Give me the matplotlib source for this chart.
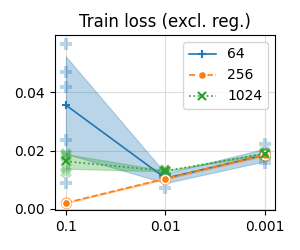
import matplotlib
matplotlib.use("Agg")
import matplotlib.pyplot as plt
import numpy as np

# learning-rate categories (x axis) and per-seed train losses for each width
lr_labels = ["0.1", "0.01", "0.001"]
widths = ["64", "256", "1024"]

loss_64 = [
    [0.0566, 0.0470, 0.0417, 0.0238, 0.0090],
    [0.0072, 0.0115, 0.0120, 0.0110, 0.0108],
    [0.0224, 0.0159, 0.0170, 0.0190, 0.0182],
]
loss_256 = [
    [0.0019, 0.0021, 0.0022, 0.0020, 0.0021],
    [0.0100, 0.0108, 0.0104, 0.0106, 0.0102],
    [0.0180, 0.0188, 0.0186, 0.0183, 0.0190],
]
loss_1024 = [
    [0.0188, 0.0184, 0.0178, 0.0140, 0.0125],
    [0.0128, 0.0131, 0.0130, 0.0129, 0.0132],
    [0.0188, 0.0192, 0.0190, 0.0186, 0.0194],
]

series = [loss_64, loss_256, loss_1024]
colors = ["#1f77b4", "#ff7f0e", "#2ca02c"]
linestyles = ["-", "--", ":"]
mean_markers = ["+", "o", "x"]
seed_markers = ["P", "o", "X"]

fig = plt.figure(figsize=(3, 2.5), dpi=100)
ax = fig.add_axes([0.183, 0.16, 0.734, 0.70])

x = np.arange(len(lr_labels))
for vals, c, ls, mm, sm, lab in zip(series, colors, linestyles, mean_markers, seed_markers, widths):
    arr = np.array(vals)
    mean = arr.mean(axis=1)
    sem = arr.std(axis=1, ddof=1) / np.sqrt(arr.shape[1])
    # individual seeds
    for i in range(arr.shape[0]):
        ax.plot(np.full(arr.shape[1], x[i]), arr[i], linestyle="none", marker=sm,
                markersize=8, color=c, alpha=0.3, markeredgewidth=0, zorder=2)
    ax.fill_between(x, mean - 1.96 * sem, mean + 1.96 * sem, color=c, alpha=0.3,
                    linewidth=0.8, zorder=1)
    ax.plot(x, mean, color=c, linestyle=ls, marker=mm, markersize=6, linewidth=1.2,
            markeredgecolor="white" if mm == "o" else c, markeredgewidth=1.2 if mm == "o" else 1.5,
            label=lab, zorder=3)

ax.set_xticks(x)
ax.set_xticklabels(lr_labels, fontsize=10)
ax.set_yticks([0.0, 0.02, 0.04])
ax.set_yticklabels(["0.00", "0.02", "0.04"], fontsize=10)
ax.set_xlim(-0.11, 2.1)
ax.set_ylim(-0.0004, 0.0597)
ax.grid(True, color="#dddddd", linewidth=0.8)
ax.set_axisbelow(True)
ax.set_title("Train loss (excl. reg.)", fontsize=12)
ax.legend(loc="upper right", fontsize=10, handlelength=2.0)

fig.savefig("out.png", dpi=100)
